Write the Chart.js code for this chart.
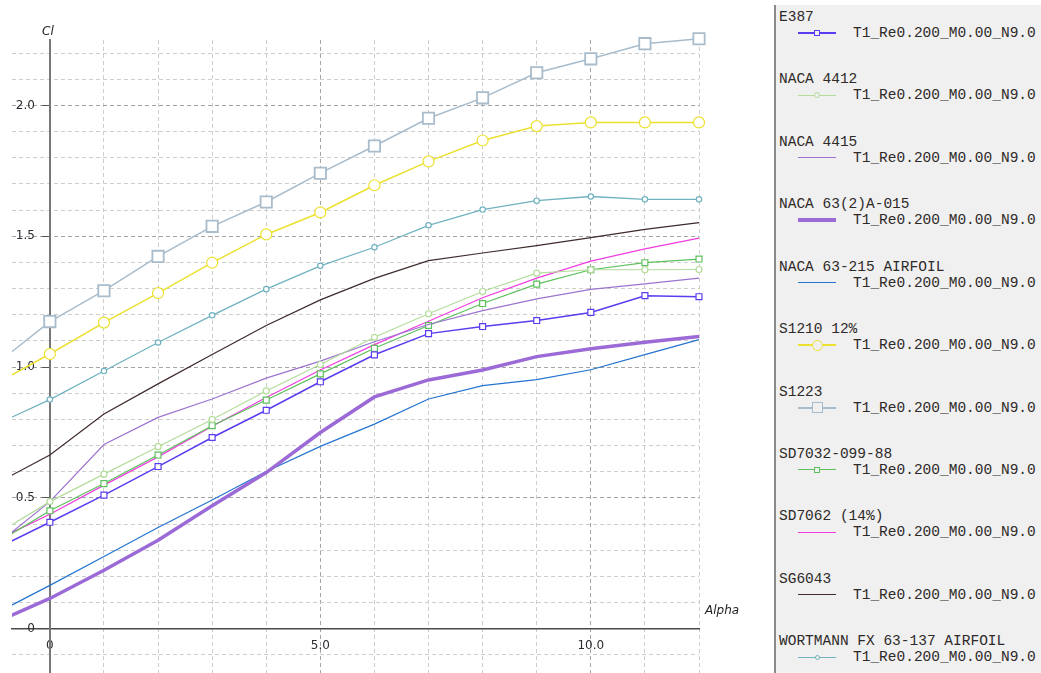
<!DOCTYPE html>
<html>
<head>
<meta charset="utf-8">
<title>Cl - Alpha</title>
<script src="https://cdn.jsdelivr.net/npm/chart.js@4.4.1/dist/chart.umd.min.js"></script>
<style>
  body { margin: 0; background: #fff; width: 1041px; height: 673px; overflow: hidden; position: relative; }
  #plot { position: absolute; left: 0; top: 0; width: 775px; height: 684px; }
  #legend {
    position: absolute; left: 774px; top: 5px; width: 265px; height: 668px;
    background: #f0f0f0; border-left: 2px solid #8a8a8a;
    font-family: "Liberation Mono", "Courier New", monospace; font-size: 14.5px; color: #2e2a28;
  }
  .name, .label { position: absolute; line-height: 16px; white-space: pre; }
  .name { left: 3px; }
  .label { left: 77px; }
  .sample { position: absolute; left: 22px; width: 38px; }
  .mark { position: absolute; background: #f0f0f0; box-sizing: border-box; }
</style>
</head>
<body>
<div id="plot"><canvas id="polarChart"></canvas></div>
<div id="legend"></div>
<script>
// angle of attack (deg)
const alpha = [-1, 0, 1, 2, 3, 4, 5, 6, 7, 8, 9, 10, 11, 12];

// lift coefficient per airfoil, Re 200k
const e387        = [0.306, 0.407, 0.511, 0.620, 0.731, 0.835, 0.944, 1.047, 1.128, 1.155, 1.178, 1.209, 1.273, 1.269];
const naca4412    = [0.360, 0.486, 0.591, 0.696, 0.800, 0.909, 1.010, 1.114, 1.204, 1.289, 1.359, 1.372, 1.372, 1.373];
const naca4415    = [0.320, 0.486, 0.704, 0.808, 0.878, 0.958, 1.023, 1.097, 1.163, 1.216, 1.261, 1.297, 1.318, 1.340];
const naca632a015 = [0.025, 0.116, 0.224, 0.338, 0.470, 0.597, 0.750, 0.886, 0.951, 0.989, 1.040, 1.070, 1.095, 1.117];
const naca63215   = [0.059, 0.166, 0.276, 0.387, 0.492, 0.601, 0.697, 0.782, 0.878, 0.929, 0.952, 0.990, 1.048, 1.105];
const s1210       = [0.936, 1.050, 1.170, 1.283, 1.399, 1.507, 1.591, 1.695, 1.786, 1.866, 1.921, 1.935, 1.935, 1.935];
const s1223       = [1.010, 1.174, 1.292, 1.423, 1.538, 1.631, 1.741, 1.845, 1.951, 2.029, 2.125, 2.178, 2.236, 2.255];
const sd7032      = [0.327, 0.451, 0.555, 0.664, 0.776, 0.874, 0.974, 1.072, 1.159, 1.243, 1.317, 1.372, 1.399, 1.413];
const sd7062      = [0.338, 0.438, 0.549, 0.657, 0.774, 0.884, 0.989, 1.086, 1.175, 1.265, 1.340, 1.405, 1.452, 1.493];
const sg6043      = [0.554, 0.664, 0.821, 0.936, 1.048, 1.159, 1.257, 1.339, 1.407, 1.436, 1.464, 1.495, 1.526, 1.552];
const wortmann    = [0.780, 0.876, 0.985, 1.094, 1.198, 1.298, 1.387, 1.458, 1.542, 1.602, 1.636, 1.652, 1.641, 1.641];

const foilNames = ['E387', 'NACA 4412', 'NACA 4415', 'NACA 63(2)A-015', 'NACA 63-215 AIRFOIL', 'S1210 12%',
                   'S1223', 'SD7032-099-88', 'SD7062 (14%)', 'SG6043', 'WORTMANN FX 63-137 AIRFOIL'];
const foilData = [e387, naca4412, naca4415, naca632a015, naca63215, s1210, s1223, sd7032, sd7062, sg6043, wortmann];
const polarName = 'T1_Re0.200_M0.00_N9.0';

// line colour, width, marker shape and radius for each curve
const styles = [
    {color: '#5b3cf0', width: 1.5, marker: 'rect',   radius: 4.2},
    {color: '#b4dc9a', width: 1.2, marker: 'circle', radius: 3},
    {color: '#9c74d0', width: 1.2, marker: null,     radius: 0},
    {color: '#9b6ad6', width: 3.5, marker: null,     radius: 0},
    {color: '#2474d0', width: 1.2, marker: null,     radius: 0},
    {color: '#ece030', width: 1.5, marker: 'circle', radius: 5.5},
    {color: '#a8bccb', width: 1.5, marker: 'rect',   radius: 8},
    {color: '#5cc05c', width: 1.2, marker: 'rect',   radius: 4.2},
    {color: '#f03ce0', width: 1.2, marker: null,     radius: 0},
    {color: '#3f2b2b', width: 1.2, marker: null,     radius: 0},
    {color: '#70b2c0', width: 1.3, marker: 'circle', radius: 2.7}
];

const datasets = foilData.map((vals, i) => ({
    label: foilNames[i],
    data: alpha.map((a, j) => ({x: a, y: vals[j]})),
    borderColor: styles[i].color,
    borderWidth: styles[i].width,
    pointStyle: styles[i].marker || 'circle',
    pointRadius: styles[i].radius,
    pointBorderColor: styles[i].color,
    pointBackgroundColor: '#ffffff',
    pointBorderWidth: styles[i].marker === 'rect' && styles[i].radius > 6 ? 1.8 : 1.2,
    clip: {left: 0, top: 12, right: 12, bottom: 0},
    tension: 0
}));

// helpers for the dashed grid: 0.1 steps on Cl, 1 deg steps on alpha
function onStep(v, step) {
    const n = v / step;
    return Math.abs(n - Math.round(n)) < 1e-6;
}

function clLabel(v) {
    return Math.abs(v) < 1e-9 ? '0' : v.toFixed(1);
}

// Cl labels to the left of the crossing axis, plus both axis titles
const axisText = {
    id: 'axisText',
    beforeDatasetsDraw(chart) {
        const {ctx, chartArea, scales: {x, y}} = chart;
        const x0 = x.getPixelForValue(0);
        ctx.save();
        ctx.font = '12px "DejaVu Sans"';
        ctx.fillStyle = '#2c2c34';
        ctx.textAlign = 'right';
        ctx.textBaseline = 'middle';
        y.ticks.forEach(t => {
            if (onStep(t.value, 0.5)) ctx.fillText(clLabel(t.value), x0 - 15, y.getPixelForValue(t.value));
        });
        ctx.textBaseline = 'alphabetic';
        ctx.font = 'italic 12px "DejaVu Sans"';
        ctx.fillStyle = '#222';
        ctx.textAlign = 'center';
        ctx.fillText('Cl', x0 - 2, chartArea.top - 5);
        ctx.textAlign = 'left';
        ctx.fillText('Alpha', chartArea.right + 6, y.getPixelForValue(0) - 15);
        ctx.restore();
    }
};

new Chart(document.getElementById('polarChart'), {
    type: 'line',
    data: {datasets},
    options: {
        responsive: true,
        maintainAspectRatio: false,
        animation: false,
        events: [],
        layout: {padding: {left: 12, top: 40, right: 76, bottom: 0}},
        plugins: {legend: {display: false}, tooltip: {enabled: false}},
        scales: {
            x: {
                type: 'linear',
                position: {y: 0},
                min: -0.7,
                max: 12,
                border: {color: '#4a4a4a', width: 1.5, dash: [4, 3]},
                grid: {
                    drawTicks: false,
                    color: ctx => !onStep(ctx.tick.value, 1) ? 'rgba(0,0,0,0)'
                        : (onStep(ctx.tick.value, 5) ? '#a4a4a4' : '#cdcdcd')
                },
                ticks: {
                    stepSize: 1,
                    includeBounds: false,
                    autoSkip: false,
                    maxRotation: 0,
                    padding: 10,
                    color: '#2c2c34',
                    font: {family: 'DejaVu Sans', size: 12},
                    callback: v => onStep(v, 5) ? (Math.abs(v) < 1e-9 ? '0' : v.toFixed(1)) : ''
                }
            },
            y: {
                type: 'linear',
                position: {x: 0},
                min: -0.1735,
                max: 2.25,
                border: {color: '#777', width: 2, dash: [4, 3]},
                grid: {
                    tickLength: 7,
                    color: ctx => !onStep(ctx.tick.value, 0.1) ? 'rgba(0,0,0,0)'
                        : (onStep(ctx.tick.value, 0.5) ? '#a4a4a4' : '#cdcdcd'),
                    tickColor: ctx => onStep(ctx.tick.value, 0.5) ? '#555' : 'rgba(0,0,0,0)'
                },
                ticks: {
                    display: false,
                    stepSize: 0.1,
                    includeBounds: false,
                    autoSkip: false
                }
            }
        }
    },
    plugins: [axisText]
});

// legend panel: airfoil name, then line sample and polar name
const legend = document.getElementById('legend');
foilNames.forEach((name, i) => {
    const top = i * 62.42;
    const st = styles[i];
    const nameEl = document.createElement('div');
    nameEl.className = 'name';
    nameEl.style.top = (top + 4) + 'px';
    nameEl.textContent = name;
    legend.appendChild(nameEl);

    const line = document.createElement('div');
    line.className = 'sample';
    line.style.height = Math.max(1, Math.round(st.width)) + 'px';
    line.style.top = (top + 28 - Math.round(st.width) / 2) + 'px';
    line.style.background = st.color;
    legend.appendChild(line);

    if (st.marker) {
        const s = st.marker === 'rect' ? Math.round(st.radius * 1.414) : Math.round(st.radius * 2);
        const m = document.createElement('div');
        m.className = 'mark';
        m.style.width = s + 'px';
        m.style.height = s + 'px';
        m.style.left = (22 + 19 - s / 2) + 'px';
        m.style.top = (top + 28 - s / 2) + 'px';
        m.style.border = '1px solid ' + st.color;
        if (st.marker === 'circle') m.style.borderRadius = '50%';
        legend.appendChild(m);
    }

    const label = document.createElement('div');
    label.className = 'label';
    label.style.top = (top + 20) + 'px';
    label.textContent = polarName;
    legend.appendChild(label);
});
</script>
</body>
</html>
